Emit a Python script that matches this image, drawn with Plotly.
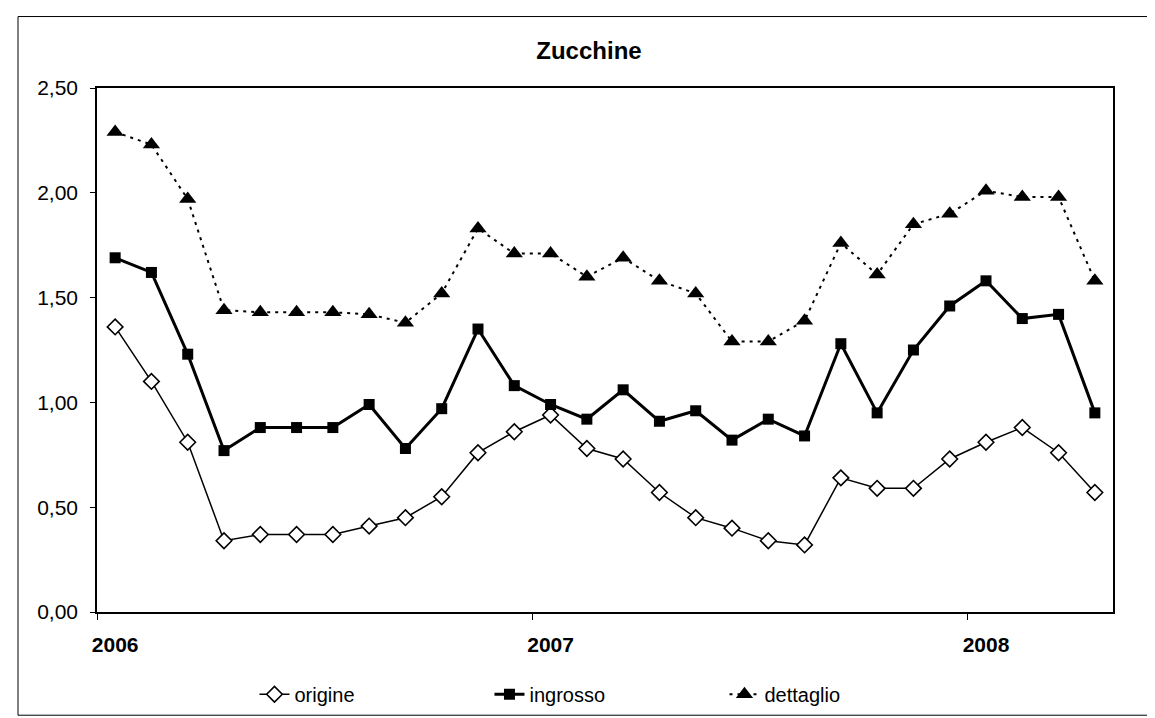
import plotly.graph_objects as go

months = [f"{y}-{m:02d}" for y in (2006, 2007) for m in range(1, 13)] + [f"2008-{m:02d}" for m in range(1, 5)]
year_ticks = ["2006", "2007", "2008"]

origine = [1.36, 1.10, 0.81, 0.34, 0.37, 0.37, 0.37, 0.41, 0.45, 0.55, 0.76, 0.86,
           0.94, 0.78, 0.73, 0.57, 0.45, 0.40, 0.34, 0.32, 0.64, 0.59, 0.59, 0.73,
           0.81, 0.88, 0.76, 0.57]
ingrosso = [1.69, 1.62, 1.23, 0.77, 0.88, 0.88, 0.88, 0.99, 0.78, 0.97, 1.35, 1.08,
            0.99, 0.92, 1.06, 0.91, 0.96, 0.82, 0.92, 0.84, 1.28, 0.95, 1.25, 1.46,
            1.58, 1.40, 1.42, 0.95]
dettaglio = [2.29, 2.23, 1.97, 1.44, 1.43, 1.43, 1.43, 1.42, 1.38, 1.52, 1.83, 1.71,
             1.71, 1.60, 1.69, 1.58, 1.52, 1.29, 1.29, 1.39, 1.76, 1.61, 1.85, 1.90,
             2.01, 1.98, 1.98, 1.58]

x = list(range(len(months)))
FONT = "Liberation Sans, Arial, sans-serif"

fig = go.Figure()
fig.add_trace(go.Scatter(
    x=x, y=origine, name="origine", mode="lines+markers", text=months,
    line=dict(color="black", width=1.5),
    marker=dict(symbol="diamond", size=12, color="white", line=dict(color="black", width=1.6)),
))
fig.add_trace(go.Scatter(
    x=x, y=ingrosso, name="ingrosso", mode="lines+markers", text=months,
    line=dict(color="black", width=3),
    marker=dict(symbol="square", size=11, color="black"),
))
fig.add_trace(go.Scatter(
    x=x, y=dettaglio, name="dettaglio", mode="lines+markers", text=months,
    line=dict(color="black", width=2, dash="3px,5px"),
    marker=dict(symbol="triangle-up", size=15, color="black"),
))

fig.update_layout(
    width=1155, height=718,
    margin=dict(l=89, r=50, t=80, b=110),
    paper_bgcolor="white", plot_bgcolor="white",
    separators=",.",
    font=dict(family=FONT, color="black", size=20),
    title=dict(text="<b>Zucchine</b>", x=0.503, xanchor="center", xref="container",
               y=1 - 43 / 718, yanchor="middle", yref="container",
               font=dict(size=24, family=FONT, color="black")),
    showlegend=True,
    legend=dict(orientation="h", x=0.155, xanchor="left", y=-0.157, yanchor="middle",
                entrywidth=190, entrywidthmode="pixels",
                font=dict(size=20, family=FONT, color="black"),
                bgcolor="rgba(0,0,0,0)"),
    shapes=[dict(type="rect", xref="paper", yref="paper",
                 x0=(10 - 89) / 1016, x1=(1148 - 89) / 1016,
                 y0=(608 - 712) / 528, y1=(608 - 8) / 528,
                 line=dict(color="black", width=1))],
)

fig.update_xaxes(
    range=[-0.5, len(months) - 0.5],
    tickvals=[0, 12, 24], ticktext=year_ticks,
    ticks="", ticklabelstandoff=13,
    tickfont=dict(size=21, family=FONT, weight="bold"),
    showgrid=False, zeroline=False,
    showline=True, mirror=True, linecolor="black", linewidth=1.5,
    minor=dict(tick0=-0.5, dtick=12, ticks="outside", ticklen=6, tickcolor="black", showgrid=False),
)
fig.update_yaxes(
    range=[0, 2.5], tickvals=[0, 0.5, 1.0, 1.5, 2.0, 2.5], tickformat=".2f",
    ticks="outside", ticklen=5, tickcolor="black", ticklabelstandoff=8,
    tickfont=dict(size=21, family=FONT),
    showgrid=False, zeroline=False,
    showline=True, mirror=True, linecolor="black", linewidth=1.5,
)

fig.write_html("out.html")
